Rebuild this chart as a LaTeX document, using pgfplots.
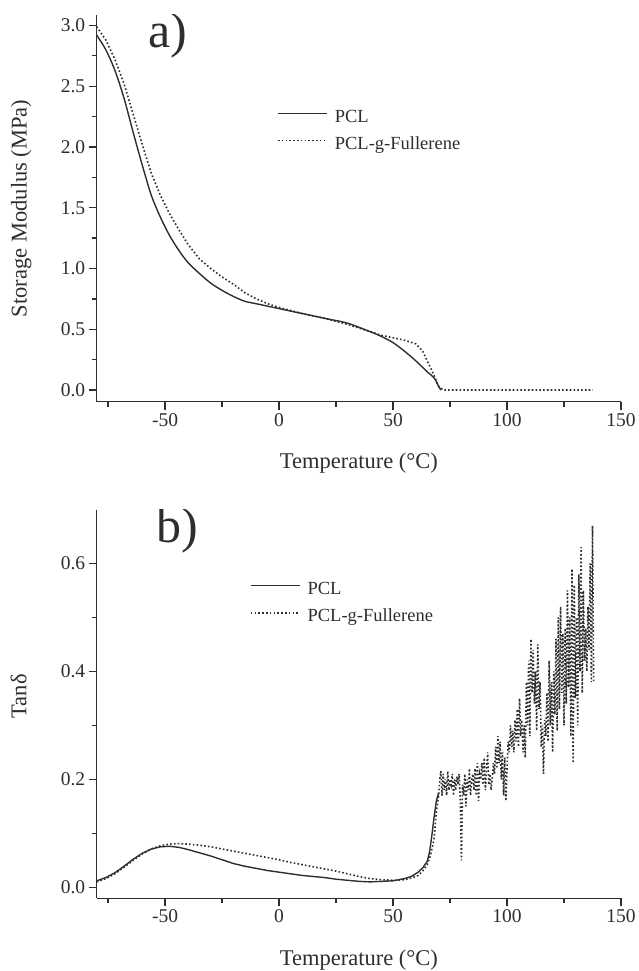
\documentclass[border=0pt]{standalone}
\usepackage{pgfplots}
\pgfplotsset{compat=1.18}
\usepackage{fontspec}
\setmainfont{Liberation Serif}

\definecolor{ink}{gray}{0.18}

\pgfplotsset{
  dma/.style={
    scale only axis,
    width=524.3pt,
    xmin=-80, xmax=150,
    axis lines=left,
    axis line style={-, line width=1.5pt, ink},
    tick align=outside,
    major tick length=8pt,
    minor tick length=5pt,
    every tick/.style={line width=1.3pt, ink},
    xtick={-50,0,50,100,150},
    xticklabels={-50,0,50,100,150},
    minor xtick={-75,-25,25,75,125},
    tick label style={font=\fontsize{19.5}{20}\selectfont, text=ink},
    every axis x label/.style={at={(axis description cs:0.5,-0.158)}, anchor=center,
      font=\fontsize{22.5}{24}\selectfont, text=ink},
    legend cell align=left,
    legend image code/.code={\draw[##1] (0pt,4pt) -- (49pt,4pt);},
    legend style={draw=none, fill=none, inner sep=0pt, anchor=north west,
      font=\fontsize{18.5}{20}\selectfont, text=ink,
      nodes={inner sep=0pt, text height=13pt, text depth=4pt},
      row sep=10pt,
      /tikz/every odd column/.append style={column sep=7pt}},
    pcl/.style={ink, line width=1.4pt},
    ful/.style={ink, line width=1.6pt, dash pattern=on 1.6pt off 2.2pt},
  }
}

\begin{document}
\begin{tikzpicture}
\useasboundingbox (0,0) rectangle (639pt,971pt);

% a) storage modulus
\begin{axis}[dma,
  at={(96.7pt,569.3pt)}, anchor=south west,
  height=386.7pt,
  ymin=-0.096, ymax=3.086,
  ytick={0,0.5,1,1.5,2,2.5,3},
  yticklabels={0.0,0.5,1.0,1.5,2.0,2.5,3.0},
  minor ytick={0.25,0.75,1.25,1.75,2.25,2.75},
  xlabel={Temperature (°C)},
  ylabel={Storage Modulus (MPa)},
  every axis y label/.style={at={(axis description cs:-0.144,0.5)}, rotate=90, anchor=center,
    font=\fontsize{22.5}{24}\selectfont, text=ink},
  legend style={at={(0.344,0.757)}},
]
\addplot[pcl, smooth] coordinates {
(-80,2.92) (-76,2.80) (-72,2.63) (-68,2.40) (-64,2.12) (-60,1.85) (-56,1.60)
(-52,1.42) (-48,1.27) (-44,1.15) (-40,1.05) (-35,0.96) (-30,0.88) (-25,0.82)
(-20,0.77) (-15,0.73) (-10,0.71) (-5,0.69) (0,0.67) (10,0.63) (20,0.59)
(30,0.55) (40,0.48) (45,0.44) (50,0.39) (55,0.32) (60,0.24) (65,0.15)
(68,0.10) (70,0.03) (71,0.0)
};
\addlegendentry{PCL}
\addplot[ful] coordinates {
(-80,2.99) (-76,2.88) (-72,2.72) (-68,2.52) (-64,2.27) (-60,2.02) (-56,1.78)
(-52,1.60) (-48,1.45) (-44,1.32) (-40,1.20) (-35,1.08) (-30,1.00) (-25,0.93)
(-20,0.87) (-15,0.80) (-10,0.75) (-5,0.71) (0,0.68) (10,0.63) (20,0.59)
(30,0.54) (40,0.48) (45,0.45) (50,0.43) (55,0.41) (60,0.38) (63,0.32)
(66,0.20) (68,0.12) (70,0.03) (72,0.0) (100,0.0) (137.7,0.0)
};
\addlegendentry{PCL-g-Fullerene}
\node[font=\fontsize{50}{50}\selectfont, text=ink] at (rel axis cs:0.136,0.948) {a)};
\end{axis}

% b) tan delta
\begin{axis}[dma,
  at={(96.7pt,72.7pt)}, anchor=south west,
  height=388.3pt,
  ymin=-0.0204, ymax=0.699,
  ytick={0,0.2,0.4,0.6},
  yticklabels={0.0,0.2,0.4,0.6},
  minor ytick={0.1,0.3,0.5},
  xlabel={Temperature (°C)},
  ylabel={Tanδ},
  every axis y label/.style={at={(axis description cs:-0.149,0.52)}, rotate=90, anchor=center,
    font=\fontsize{22.5}{24}\selectfont, text=ink},
  legend style={at={(0.292,0.817)}},
]
\addplot[pcl] coordinates {
(-80,0.012) (-76,0.018) (-72,0.027) (-68,0.039) (-64,0.052) (-60,0.063)
(-56,0.071) (-52,0.075) (-48,0.076) (-44,0.074) (-40,0.070) (-35,0.064)
(-30,0.058) (-25,0.051) (-20,0.044) (-15,0.039) (-10,0.035) (-5,0.031)
(0,0.028) (5,0.025) (10,0.022) (15,0.020) (20,0.018) (25,0.015) (30,0.013)
(35,0.011) (40,0.010) (45,0.011) (50,0.012) (55,0.016) (58,0.020) (61,0.028)
(63,0.036) (65,0.048) (66,0.065) (67,0.095) (68,0.130) (69,0.160) (70,0.175)
};
\addlegendentry{PCL}
\addplot[ful] coordinates {
(-80,0.010) (-76,0.016) (-72,0.025) (-68,0.037) (-64,0.050) (-60,0.062)
(-56,0.071) (-52,0.077) (-48,0.080) (-44,0.081) (-40,0.080) (-35,0.078)
(-30,0.075) (-25,0.071) (-20,0.067) (-15,0.063) (-10,0.059) (-5,0.055)
(0,0.051) (5,0.046) (10,0.042) (15,0.038) (20,0.034) (25,0.030) (30,0.025)
(35,0.020) (40,0.016) (45,0.014) (50,0.013) (55,0.014) (58,0.017) (61,0.022)
(63,0.030) (65,0.042) (66.5,0.060) (68,0.09) (69,0.14) (70,0.17) (70.5,0.20)
(71,0.215) (71.5,0.17) (72,0.21) (72.5,0.18) (73,0.20) (73.5,0.17) (74,0.215)
(74.5,0.18) (75,0.20) (75.5,0.19) (76,0.21) (76.5,0.17) (77,0.20) (77.5,0.18)
(78,0.205) (78.5,0.19) (79,0.21) (79.5,0.16) (80,0.05) (80.5,0.19) (81,0.17)
(81.5,0.21) (82,0.15) (82.5,0.20) (83,0.18) (83.5,0.22) (84,0.17) (84.5,0.20)
(85,0.21) (85.5,0.18) (86,0.22) (86.5,0.17) (87,0.23) (87.5,0.16) (88,0.21)
(88.5,0.20) (89,0.23) (89.5,0.19) (90,0.24) (90.5,0.18) (91,0.22) (91.5,0.25)
(92,0.19) (92.5,0.21) (93,0.18) (93.5,0.20) (94,0.23) (94.5,0.21) (95,0.26)
(95.5,0.22) (96,0.28) (96.5,0.23) (97,0.27) (97.5,0.20) (98,0.25) (98.5,0.17)
(99,0.24) (99.5,0.16) (100,0.22) (100.5,0.27) (101,0.25) (101.5,0.30)
(102,0.26) (102.5,0.29) (103,0.25) (103.5,0.31) (104,0.27) (104.5,0.33)
(105,0.26) (105.5,0.35) (106,0.28) (106.5,0.31) (107,0.25) (107.5,0.30)
(108,0.24) (108.5,0.38) (109,0.30) (109.5,0.42) (110,0.28) (110.5,0.46)
(111,0.36) (111.5,0.44) (112,0.34) (112.5,0.40) (113,0.29) (113.5,0.45)
(114,0.33) (114.5,0.38) (115,0.26) (115.5,0.30) (116,0.21) (116.5,0.31)
(117,0.28) (117.5,0.36) (118,0.27) (118.5,0.42) (119,0.30) (119.5,0.38)
(120,0.25) (120.5,0.40) (121,0.32) (121.5,0.46) (122,0.29) (122.5,0.50)
(123,0.33) (123.5,0.52) (124,0.36) (124.5,0.47) (125,0.30) (125.5,0.48)
(126,0.34) (126.5,0.55) (127,0.37) (127.5,0.50) (128,0.28) (128.5,0.59)
(129,0.23) (129.5,0.56) (130,0.35) (130.5,0.50) (131,0.30) (131.5,0.58)
(132,0.40) (132.5,0.63) (133,0.36) (133.5,0.55) (134,0.42) (134.5,0.48)
(135,0.40) (135.5,0.52) (136,0.44) (136.5,0.60) (137,0.38) (137.5,0.67)
(138,0.38)
};
\addlegendentry{PCL-g-Fullerene}
\node[font=\fontsize{50}{50}\selectfont, text=ink] at (rel axis cs:0.153,0.948) {b)};
\end{axis}
\end{tikzpicture}
\end{document}
